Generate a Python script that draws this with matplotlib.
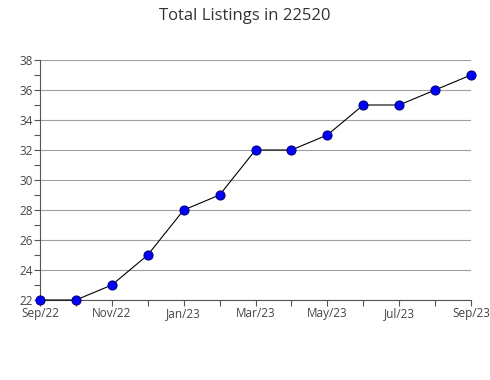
import matplotlib
matplotlib.use('Agg')
import matplotlib.pyplot as plt
from matplotlib.ticker import MultipleLocator

plt.rcParams['font.family'] = ['Open Sans', 'DejaVu Sans']

months = ['Sep/22', 'Oct/22', 'Nov/22', 'Dec/22', 'Jan/23', 'Feb/23', 'Mar/23',
          'Apr/23', 'May/23', 'Jun/23', 'Jul/23', 'Aug/23', 'Sep/23']
listings = [22, 22, 23, 25, 28, 29, 32, 32, 33, 35, 35, 36, 37]
xlabels = ['Sep/22', '', 'Nov/22', '', 'Jan/23', '', 'Mar/23',
           '', 'May/23', '', 'Jul/23', '', 'Sep/23']

fig = plt.figure(figsize=(4.9, 3.8), dpi=100)
ax = fig.add_axes([40 / 490, 1 - 300 / 380, 431 / 490, 240 / 380])

x = list(range(len(months)))
ax.plot(x, listings, color='black', lw=0.8, marker='o', ms=6.5,
        mfc='#0000ff', mec='#000080', mew=0.8, zorder=3, clip_on=False)

ax.set_xlim(0, len(months) - 1)
ax.set_ylim(22, 38)
ax.set_xticks(x)
ax.set_xticklabels(xlabels)
ax.yaxis.set_major_locator(MultipleLocator(2))
ax.yaxis.set_minor_locator(MultipleLocator(1))
ax.grid(axis='y', which='major', color='#a0a0a0', lw=0.8)
ax.set_axisbelow(True)

for s in ['top', 'right']:
    ax.spines[s].set_visible(False)
for s in ['left', 'bottom']:
    ax.spines[s].set_color('#555555')
    ax.spines[s].set_linewidth(0.8)

ax.tick_params(axis='both', which='both', color='#555555', labelcolor='#444444',
               labelsize=8.5, direction='out', length=4, width=0.8, pad=1)
ax.tick_params(axis='y', which='minor', length=4)

fig.suptitle('Total Listings in 22520', x=0.5, y=0.98, fontsize=12, color='#333333')

fig.savefig('out.png', dpi=100)
